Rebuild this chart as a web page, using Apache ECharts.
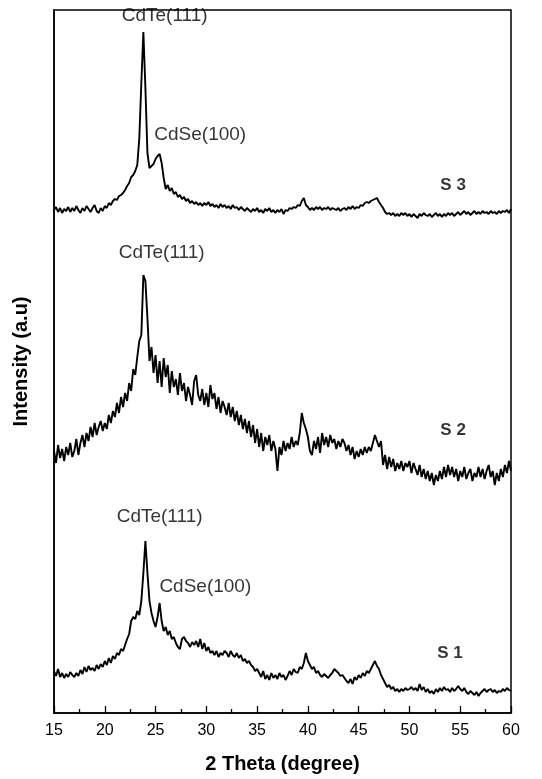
<!DOCTYPE html>
<html>
<head>
<meta charset="utf-8">
<script src="https://cdn.jsdelivr.net/npm/echarts@6/dist/echarts.min.js"></script>
<style>
  html, body { margin: 0; padding: 0; background: #fff; }
  #chart { width: 542px; height: 779px; }
</style>
</head>
<body>
<div id="chart"></div>
<script>
// 2-theta grid: 15 -> 60 step 0.2 (one row per degree)
const thetaStart = 15;
const thetaStep = 0.2;
const xTicks = [15, 20, 25, 30, 35, 40, 45, 50, 55, 60];

// intensities (arbitrary units, stacked offsets included)
const s3 = [
  503, 506, 501, 505, 500,
  504, 502, 506, 501, 505,
  502, 507, 503, 500, 505,
  502, 507, 504, 501, 505,
  508, 502, 500, 505, 502,
  507, 505, 510, 508, 512,
  514, 513, 517, 518, 520,
  523, 527, 530, 536, 538,
  542, 548, 575, 630, 681,
  625, 560, 545, 547, 549,
  554, 557, 559, 550, 535,
  524, 528, 522, 525, 519,
  521, 516, 518, 514, 516,
  512, 514, 510, 512, 509,
  511, 508, 510, 507, 510,
  508, 511, 507, 509, 506,
  508, 505, 509, 506, 508,
  505, 507, 504, 508, 505,
  506, 503, 506, 504, 502,
  505, 503, 501, 504, 502,
  505, 501, 503, 500, 504,
  502, 505, 501, 503, 500,
  503, 501, 504, 499, 503,
  502, 505, 504, 506, 505,
  508, 507, 512, 515, 508,
  506, 503, 505, 503, 506,
  504, 506, 503, 505, 504,
  506, 503, 505, 504, 503,
  505, 502, 504, 505, 503,
  506, 504, 507, 504, 506,
  505, 508, 507, 510, 511,
  510, 512, 513, 514, 515,
  511, 508, 505, 501, 499,
  500, 498, 500, 497, 499,
  497, 500, 498, 500, 497,
  499, 496, 499, 497, 495,
  499, 497, 500, 498, 497,
  499, 496, 498, 500, 497,
  499, 496, 499, 497, 500,
  498, 500, 497, 499, 501,
  498, 500, 502, 499, 501,
  498, 500, 502, 499, 501,
  499, 502, 500, 501, 499,
  502, 500, 501, 499, 502,
  500, 502, 501, 503, 500,
  504
];

const s2 = [
  262, 250, 268, 255, 264,
  252, 266, 258, 270, 256,
  262, 274, 258, 270, 278,
  266, 280, 272, 286, 276,
  290, 278, 286, 292, 282,
  290, 284, 298, 290, 302,
  296, 310, 300, 316, 306,
  320, 312, 330, 322, 344,
  338, 356, 372, 378, 438,
  432, 395, 352, 366, 340,
  358, 330, 352, 326, 355,
  336, 348, 320, 342, 326,
  334, 318, 340, 322, 330,
  312, 326, 318, 308, 332,
  338, 318, 312, 324, 308,
  320, 306, 328, 314, 320,
  304, 316, 300, 312, 306,
  298, 310, 296, 306, 292,
  302, 288, 298, 284, 294,
  280, 292, 276, 288, 270,
  284, 266, 280, 262, 276,
  268, 278, 262, 272, 264,
  242, 266, 258, 272, 262,
  270, 264, 276, 266, 272,
  268, 280, 300, 290, 284,
  276, 262, 258, 272, 264,
  276, 260, 280, 268, 276,
  266, 278, 270, 274, 264,
  272, 266, 274, 270, 262,
  268, 258, 266, 254, 262,
  256, 264, 258, 266, 260,
  266, 262, 270, 278, 272,
  266, 272, 248, 258, 244,
  256, 246, 254, 242, 250,
  244, 252, 242, 250, 246,
  252, 240, 250, 244, 238,
  248, 236, 244, 234, 242,
  232, 240, 228, 238, 232,
  242, 234, 246, 236, 248,
  238, 246, 236, 244, 232,
  242, 236, 246, 234, 240,
  244, 232, 240, 236, 246,
  236, 244, 234, 242, 248,
  236, 242, 228, 240, 232,
  244, 236, 248, 240, 252,
  242
];

const s1 = [
  42, 37, 44, 36, 40,
  35, 39, 36, 41, 38,
  36, 40, 37, 43, 39,
  46, 41, 47, 43, 45,
  42, 48, 44, 49, 46,
  52, 48, 55, 50, 57,
  54, 60, 58, 64, 62,
  68, 74, 79, 92, 96,
  94, 102, 98, 112, 140,
  172, 140, 112, 100, 92,
  86, 96, 110, 92, 82,
  86, 78, 82, 74, 76,
  70, 66, 64, 74, 76,
  72, 70, 66, 71, 68,
  72, 66, 74, 64, 70,
  62, 66, 60, 62, 58,
  62, 56, 60, 58, 62,
  60, 56, 62, 58, 56,
  60, 55, 58, 52, 54,
  50, 52, 48, 46, 42,
  44, 40, 36, 42, 34,
  38, 33, 40, 35, 38,
  34, 40, 36, 38, 33,
  37, 42, 38, 44, 41,
  40, 46, 44, 50, 60,
  52, 48, 44, 46, 40,
  42, 38, 36, 39, 37,
  35, 38, 40, 44, 42,
  40, 37, 38, 35, 32,
  30, 34, 29, 36, 33,
  38, 35, 40, 37, 42,
  40, 44, 48, 52, 47,
  44, 38, 34, 30, 26,
  28, 24, 26, 22, 24,
  21, 24, 22, 25, 23,
  24, 26, 23, 25, 22,
  29, 23, 26, 21, 24,
  20, 22, 19, 24, 21,
  25, 22, 26, 23, 24,
  21, 25, 22, 24, 27,
  24, 22, 25, 21, 19,
  22, 20, 18, 21, 17,
  20, 22, 24, 21, 23,
  24, 21, 23, 20, 22,
  21, 24, 22, 25, 23,
  22
];

const toPairs = (arr) => arr.map((v, i) => [+(thetaStart + i * thetaStep).toFixed(1), v]);

const chart = echarts.init(document.getElementById('chart'));

const fontFamily = 'Liberation Sans, Arial, sans-serif';

const lineSeries = (name, data) => ({
  name: name,
  type: 'line',
  data: toPairs(data),
  showSymbol: false,
  symbol: 'none',
  silent: true,
  lineStyle: {color: '#000', width: 1.9},
  z: 2
});

const note = (x, y, text, bold) => ({
  value: [x, y],
  label: {
    formatter: text,
    color: '#000',
    textBorderWidth: 0,
    fontSize: bold ? 17 : 19,
    fontWeight: bold ? 'bold' : 'normal'
  }
});

chart.setOption({
  backgroundColor: '#fff',
  animation: false,
  grid: {
    left: 54,
    right: 31,
    top: 10,
    bottom: 66,
    show: true,
    borderColor: '#000',
    borderWidth: 1.5
  },
  xAxis: {
    type: 'value',
    min: 15,
    max: 60,
    interval: 5,
    name: '2 Theta (degree)',
    nameLocation: 'middle',
    nameGap: 41,
    nameTextStyle: {fontSize: 20, fontWeight: 'bold', color: '#000', fontFamily: fontFamily},
    axisLine: {lineStyle: {color: '#000', width: 1.5}},
    axisTick: {inside: true, length: 7, lineStyle: {color: '#000', width: 1.3}},
    minorTick: {show: true, splitNumber: 2, length: 4, lineStyle: {color: '#000', width: 1.3}},
    axisLabel: {
      color: '#000', fontSize: 16, margin: 10, fontFamily: fontFamily,
      customValues: xTicks
    },
    splitLine: {show: false}
  },
  yAxis: {
    type: 'value',
    min: 0,
    max: 703,
    name: 'Intensity (a.u)',
    nameLocation: 'middle',
    nameGap: 23,
    nameTextStyle: {fontSize: 20, fontWeight: 'bold', color: '#000', fontFamily: fontFamily},
    axisLine: {show: true, lineStyle: {color: '#000', width: 1.5}},
    axisTick: {show: false},
    axisLabel: {show: false},
    splitLine: {show: false}
  },
  series: [
    lineSeries('S 3', s3),
    lineSeries('S 2', s2),
    lineSeries('S 1', s1),
    {
      name: 'notes',
      type: 'scatter',
      symbolSize: 0,
      silent: true,
      z: 3,
      label: {
        show: true,
        position: 'inside',
        color: '#000',
        fontFamily: fontFamily
      },
      data: [
        note(25.9, 697, 'CdTe(111)'),
        note(29.4, 578, 'CdSe(100)'),
        note(54.3, 528, 'S 3', true),
        note(25.6, 460, 'CdTe(111)'),
        note(54.3, 283, 'S 2', true),
        note(25.4, 196, 'CdTe(111)'),
        note(29.9, 126, 'CdSe(100)'),
        note(54.0, 60, 'S 1', true)
      ]
    }
  ]
});
</script>
</body>
</html>
